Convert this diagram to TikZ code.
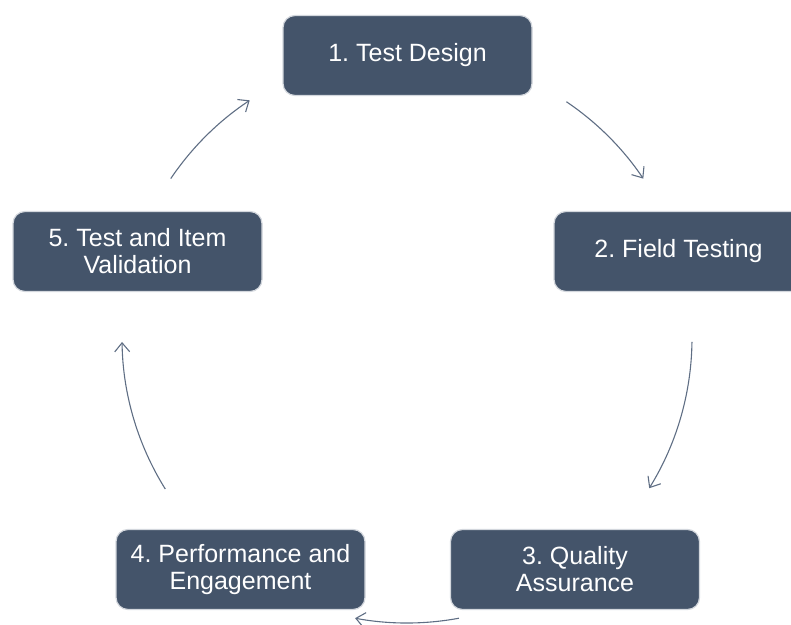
\documentclass[tikz,border=0pt]{standalone}
\usepackage{fontspec}
\setmainfont{Liberation Sans}
\usetikzlibrary{arrows.meta}
\definecolor{stepfill}{HTML}{44546A}
\definecolor{stepedge}{HTML}{D3D7DD}
\definecolor{cyclearrow}{HTML}{5F6E84}
\frenchspacing
\begin{document}
\begin{tikzpicture}[x=1pt,y=1pt,
  stepbox/.style={draw=stepedge, line width=1.2pt, fill=stepfill,
    rounded corners=12pt, minimum width=249pt, minimum height=80pt,
    text=white, align=center, inner sep=0pt,
    font=\fontsize{25}{27}\selectfont},
  cyclearc/.style={draw=cyclearrow, line width=1.1pt,
    -{Straight Barb[length=9pt,width=15pt,line width=1.1pt]}}]
  \useasboundingbox (0,0) rectangle (791,624);
  \clip (0,0) rectangle (791,624);
  % steps of the cycle
  \node[stepbox] (s1) at (407.5,568.5) {1. Test Design};
  \node[stepbox] (s2) at (678.5,372.5) {2. Field Testing};
  \node[stepbox] (s3) at (575,54.5) {3. Quality\\Assurance};
  \node[stepbox] (s4) at (240.5,54.5) {4. Performance and\\Engagement};
  \node[stepbox] (s5) at (137.5,372.5) {5. Test and Item\\Validation};
  % arcs around the common centre
  \coordinate (c) at (407,286);
  \coordinate (a12) at ([shift={(56:285)}]c);
  \coordinate (a23) at ([shift={(-0.8:285)}]c);
  \coordinate (a34) at ([shift={(-79.5:285)}]c);
  \coordinate (a45) at ([shift={(212:285)}]c);
  \coordinate (a51) at ([shift={(146:285)}]c);
  \draw[cyclearc] (a12) arc[start angle=56, end angle=34, radius=285];
  \draw[cyclearc] (a23) arc[start angle=-0.8, end angle=-31.8, radius=285];
  \draw[cyclearc] (a34) arc[start angle=-79.5, end angle=-100.5, radius=285];
  \draw[cyclearc] (a45) arc[start angle=212, end angle=180.8, radius=285];
  \draw[cyclearc] (a51) arc[start angle=146, end angle=123.5, radius=285];
\end{tikzpicture}
\end{document}
